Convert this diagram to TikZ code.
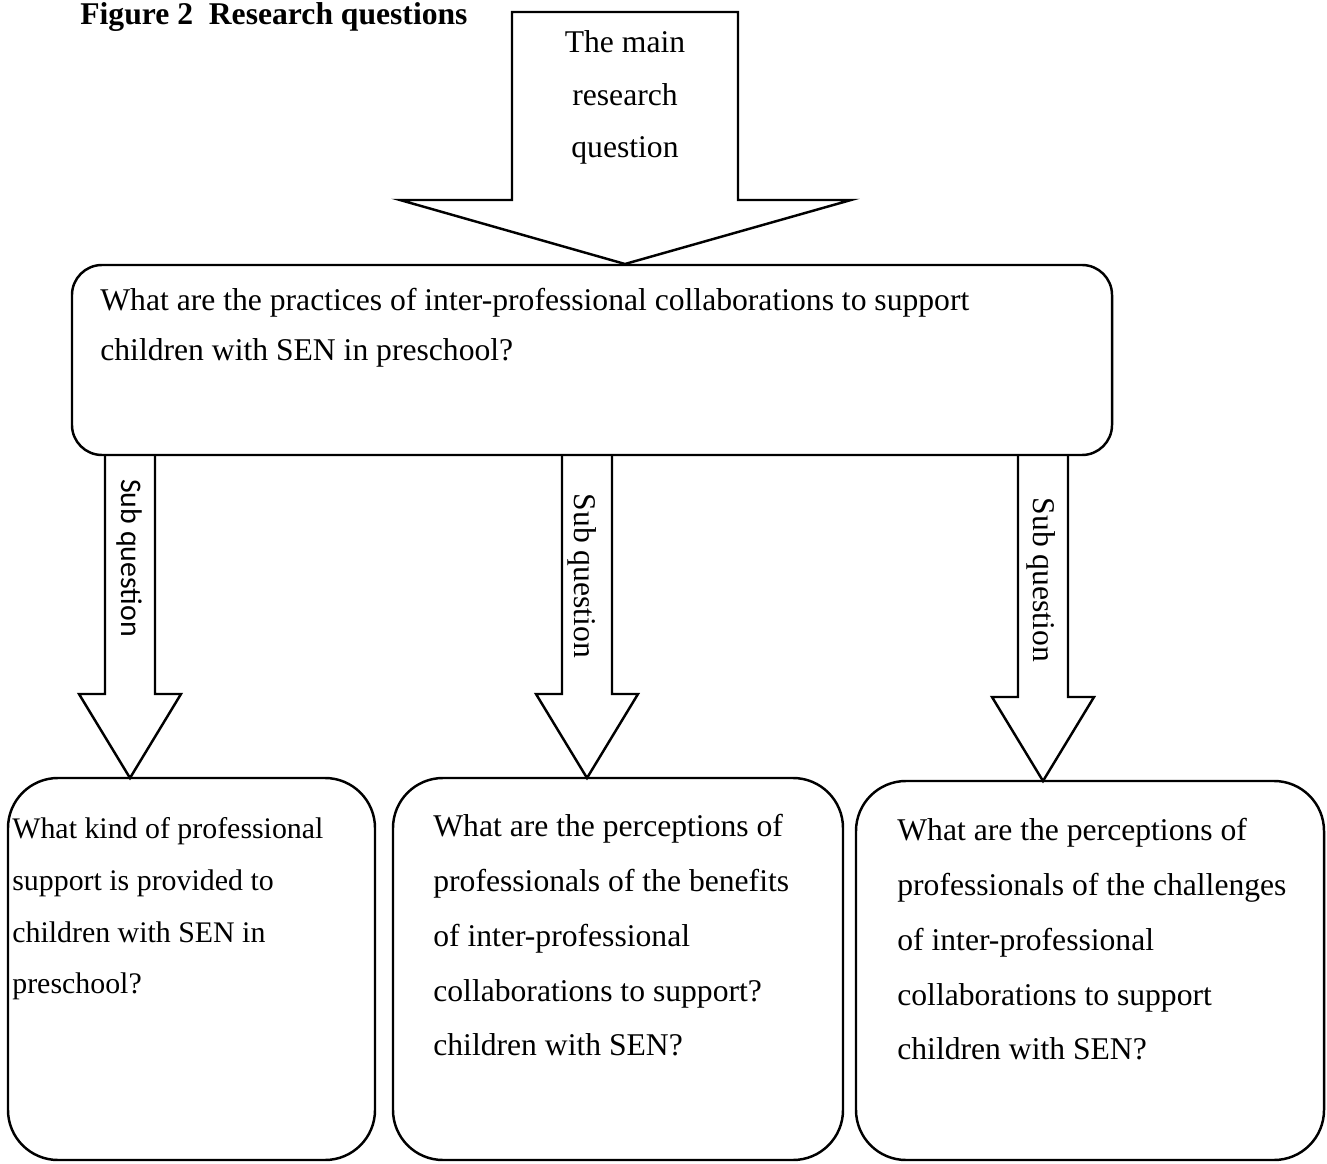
\documentclass[tikz,border=0pt]{standalone}
\usepackage{fontspec}
\setmainfont{Liberation Serif}
\newfontfamily\subfont{Carlito}
\usetikzlibrary{calc}

\tikzset{
  qline/.style={line width=1.4pt, line join=miter},
  qbox/.style={draw, qline, rounded corners=10mm, inner sep=0pt, outer sep=0pt},
  qtext/.style={inner sep=0pt, align=left, anchor=north west},
  sublabel/.style={rotate=-90, inner sep=0pt, font=\fontsize{18}{18}\selectfont}
}

% block arrow from the main box down to a tip coordinate
\newcommand{\subarrow}[1]{%
  \draw[qline] ($(#1 |- mainq.south)+(-25,0)$) -- ($(#1)+(-25,-84)$) -- ($(#1)+(-51,-84)$)
    -- (#1) -- ($(#1)+(51,-84)$) -- ($(#1)+(25,-84)$) -- ($(#1 |- mainq.south)+(25,0)$);
}

\begin{document}
\begin{tikzpicture}[x=0.2mm, y=-0.2mm]
        \useasboundingbox[fill=white] (0,0) rectangle (1327,1164);

        % Title
        \node[anchor=base west, inner sep=0pt, font=\bfseries\fontsize{18}{18}\selectfont] (title) at (80,25) {Figure 2\ \ Research questions};

        % Main research question box
        \node[qbox, rounded corners=6mm, minimum width=208mm, minimum height=38mm] (mainq) at (592,360) {};
        \node[qtext, font=\fontsize{18}{28.3}\selectfont] (mainqtxt) at (100,288) {What are the practices of inter-professional collaborations to support\\children with SEN in preschool?};

        % Top block arrow into the main box
        \coordinate (tipM) at (625,264);
        \draw[qline] (512,12) -- (512,200) -- (400,200) -- (tipM) -- (851,200) -- (738,200) -- (738,12) -- cycle;
        \node[inner sep=0pt, align=center, anchor=north, font=\fontsize{18}{30}\selectfont] (mainlbl) at (625,30) {The main\\research\\question};

        % Sub question boxes
        \node[qbox, minimum width=73.4mm, minimum height=76.4mm] (subA) at (191.5,969) {};
        \node[qbox, minimum width=90mm, minimum height=76.4mm] (subB) at (618,969) {};
        \node[qbox, minimum width=93.6mm, minimum height=75.8mm] (subC) at (1090,970.5) {};

        \node[qtext, font=\fontsize{17}{29.5}\selectfont] (subAtxt) at (12,817) {What kind of professional\\support is provided to\\children with SEN in\\preschool?};
        \node[qtext, font=\fontsize{18}{31.2}\selectfont] (subBtxt) at (433,814) {What are the perceptions of\\professionals of the benefits\\of inter-professional\\collaborations to support?\\children with SEN?};
        \node[qtext, font=\fontsize{18}{31.2}\selectfont] (subCtxt) at (897,818) {What are the perceptions of\\professionals of the challenges\\of inter-professional\\collaborations to support\\children with SEN?};

        % Sub question arrows
        \coordinate (tipA) at (130,778);
        \coordinate (tipB) at (587,778);
        \coordinate (tipC) at (1043,781);
        \subarrow{tipA}
        \subarrow{tipB}
        \subarrow{tipC}

        \node[sublabel, font=\subfont\fontsize{17}{17}\selectfont] (labA) at (129,558) {Sub question};
        \node[sublabel] (labB) at (582,576) {Sub question};
        \node[sublabel] (labC) at (1041,580) {Sub question};
\end{tikzpicture}
\end{document}
